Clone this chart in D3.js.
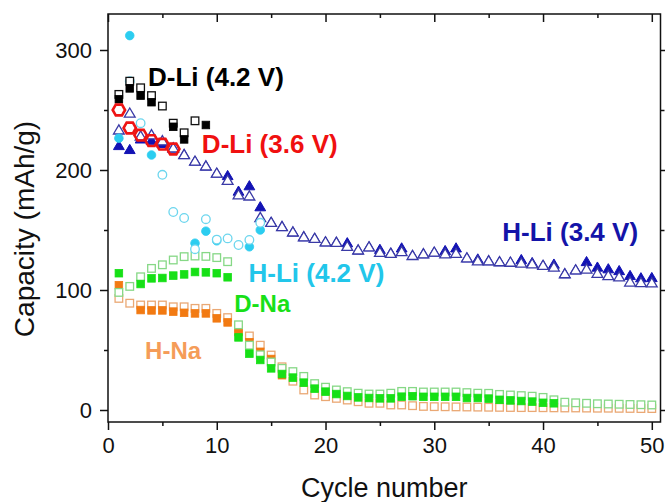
<!DOCTYPE html>
<html>
<head>
<meta charset="utf-8">
<script src="https://cdn.jsdelivr.net/npm/d3@7"></script>
<style>
  html, body { margin: 0; padding: 0; background: #ffffff; }
  svg { display: block; }
  text { font-family: "Liberation Sans", Arial, Helvetica, sans-serif; }
</style>
</head>
<body>
<script>
// ---------------- DATA ----------------
const cycleNumbers = [1,2,3,4,5,6,7,8,9,10,11,12,13,14,15,16,17,18,19,20,21,22,23,24,25,
                      26,27,28,29,30,31,32,33,34,35,36,37,38,39,40,41,42,43,44,45,46,47,48,49,50];

const xTicksMajor = [0, 10, 20, 30, 40, 50];
const xTicksMinor = [5, 15, 25, 35, 45];
const yTicksMajor = [0, 100, 200, 300];
const yTicksMinor = [50, 150, 250];

// D-Li (4.2 V) black squares (cycle 1..)
const dLi42Open   = [263, 274, 268.5, 262, 253.3, 239, 231, 241];
const dLi42Filled = [259, 268, 262, 256.5, null, 236, 225.5, null, 237.5];

// D-Li (3.6 V) red hexagons
const dLi36 = [250, 235, 229, 224.5, 221.5, 217.5];

// H-Li (4.2 V) cyan circles
const hLi42Filled = [226.5, 312, null, 212.5, null, null, null, 139, 149, 141, null, null, 136, 150];
const hLi42Open   = [null, 274, 239, null, 196, 165, 160, 134, 159, 142, 143, 137.5, 141.7, 156];

// H-Li (3.4 V) navy triangles
const hLi34Open = [233, 247, 228, 229, 224, 218, 212.5, 207, 203, 197, 191, 179, 178, 160, 156,
                   152.5, 148, 144, 142.7, 139.7, 139.4, 136, 133, 135.6, 131, 130.2, 131.7, 128.4, 129.8, 131.2,
                   129.8, 130.2, 126.4, 124, 124, 123.2, 122.8, 122, 121.4, 120.2, 118.8, 113.2, 116.4, 117.1, 113.5,
                   111.7, 110.6, 106.3, 105.8, 105.6];
const hLi34Filled = [220, 216.7, 225.5, 224.4, 221.7, 218, 212.5, 207, 203, 197, 195, 182, 186.5, 169, 156,
                     152.5, 148, 144, 142.7, 139.7, 139.4, 139, 133, 135.6, 133.5, 130.5, 134.7, 128.4, 129.8, 131.2,
                     132.5, 134.7, 126.4, 125.5, 124, 123.2, 122.8, 125, 122.5, 120.2, 121.2, 113.2, 116.4, 123.3, 118.7,
                     117.3, 115.8, 111.7, 109.8, 110];

// D-Na green squares
const dNaOpen = [98, 103, 111, 118, 121, 125, 127.8, 128.3, 128, 127, 123.6, 71, 54, 46, 40,
                 34.7, 32, 28, 22, 19, 16.7, 15.3, 14, 13.3, 13.3, 14, 15.5, 15.5, 15, 15,
                 15, 15, 14.5, 14, 13.9, 13, 12.5, 12, 11.5, 10.5, 8.5, 6.5, 6, 5.6, 5.2,
                 5, 4.8, 4.6, 4.4, 4.2];
const dNaFilled = [114, null, 105, 109.7, 110, 112, 113, 115, 114.7, 114, 110.6, 60.5, 47, 41.7, 34.7,
                   30, 27, 22.8, 17.8, 15.3, 13.3, 11.7, 10.5, 10, 9.7, 9.7, 11.1, 11.5, 11, 11,
                   11, 11, 10, 10, 9.5, 8.5, 8, 7.5, 7, 6, 5.6];

// H-Na orange squares
const hNaOpen = [93, 89, 87.5, 87.5, 87.5, 86, 86, 84.7, 84.7, 80.5, 77, 68, 61.7, 54, 45.8,
                 36, 24, 16.7, 12.5, 11.1, 9.7, 8.3, 6.9, 5.6, 5.6, 4.2, 4.2, 3.6, 3, 2.8,
                 2.7, 2.6, 2.5, 2.4, 2.3, 2.2, 2.1, 2, 2, 1.9, 1.8, 1.7, 1.7, 1.6, 1.5,
                 1.5, 1.4, 1.3, 1.2, 1.2];
const hNaFilled = [104, null, 83.3, 83, 83, 82, 81, 80.5, 80.5, 76.4, 73, 65, 56.5, 48.5, 42.5, 29];

// Labels
const seriesLabels = [
  { text: "D-Li (4.2 V)", color: "#000000", cycle: 3.68, value: 269.6, size: 26 },
  { text: "D-Li (3.6 V)", color: "#f01010", cycle: 8.63, value: 214, size: 26 },
  { text: "H-Li (3.4 V)", color: "#1414a8", cycle: 36.25, value: 141, size: 26 },
  { text: "H-Li (4.2 V)", color: "#22c6ea", cycle: 12.92, value: 107, size: 26 },
  { text: "D-Na",         color: "#18e018", cycle: 11.61, value: 81.5, size: 24 },
  { text: "H-Na",         color: "#f59c58", cycle: 3.41, value: 42.5, size: 24 }
];

// ---------------- CHART ----------------
const W = 665, H = 502;
const svg = d3.select("body").append("svg").attr("width", W).attr("height", H);

const x = d3.scaleLinear().domain([0, 50.8]).range([108, 660.5]);
const y = d3.scaleLinear().domain([-10, 330]).range([422, 14]);

const toPts = arr => arr.map((v, i) => ({ c: cycleNumbers[i], v })).filter(d => d.v !== null);

// Axes
function styleAxis(g) {
  g.select(".domain").remove();
  g.selectAll(".tick line").attr("stroke", "#111").attr("stroke-width", 1.5);
  g.selectAll(".tick text").attr("fill", "#111").style("font-size", "22px")
    .style("font-family", '"Liberation Sans", Arial, sans-serif');
}
svg.append("g").attr("transform", "translate(108,0)")
  .call(d3.axisLeft(y).tickValues(yTicksMajor).tickSize(8).tickPadding(8)).call(styleAxis);
svg.append("g").attr("transform", "translate(108,0)")
  .call(d3.axisLeft(y).tickValues(yTicksMinor).tickSize(4).tickFormat("")).call(styleAxis);
svg.append("g").attr("transform", "translate(660.5,0)")
  .call(d3.axisRight(y).tickValues(yTicksMajor).tickSize(8).tickFormat("")).call(styleAxis);
svg.append("g").attr("transform", "translate(660.5,0)")
  .call(d3.axisRight(y).tickValues(yTicksMinor).tickSize(4).tickFormat("")).call(styleAxis);
svg.append("g").attr("transform", "translate(0,422)")
  .call(d3.axisBottom(x).tickValues(xTicksMajor).tickSize(8).tickPadding(7)).call(styleAxis);
svg.append("g").attr("transform", "translate(0,422)")
  .call(d3.axisBottom(x).tickValues(xTicksMinor).tickSize(4).tickFormat("")).call(styleAxis);
svg.append("g").attr("transform", "translate(0,14)")
  .call(d3.axisBottom(x).tickValues(xTicksMajor).tickSize(8).tickFormat("")).call(styleAxis);
svg.append("g").attr("transform", "translate(0,14)")
  .call(d3.axisBottom(x).tickValues(xTicksMinor).tickSize(4).tickFormat("")).call(styleAxis);

// Frame
svg.append("rect")
  .attr("x", x(0)).attr("y", y(330))
  .attr("width", x(50.8) - x(0)).attr("height", y(-10) - y(330))
  .attr("fill", "none").attr("stroke", "#111").attr("stroke-width", 1.5);

// Axis titles
svg.append("text").attr("x", (x(0) + x(50.8)) / 2).attr("y", 497)
  .attr("text-anchor", "middle").style("font-size", "27px").attr("fill", "#111")
  .text("Cycle number");
svg.append("text").attr("transform", "translate(34,229) rotate(-90)")
  .attr("text-anchor", "middle").style("font-size", "28px").attr("fill", "#111")
  .text("Capacity (mAh/g)");

const plot = svg.append("g");

function squares(data, fill, stroke, sw) {
  const s = 7.6;
  plot.append("g").selectAll("rect").data(toPts(data)).join("rect")
    .attr("x", d => x(d.c) - s / 2).attr("y", d => y(d.v) - s / 2)
    .attr("width", s).attr("height", s)
    .attr("fill", fill).attr("stroke", stroke).attr("stroke-width", sw);
}
function triangles(data, fill, stroke, sw) {
  const tri = "M0,-5.6L5.4,3.6L-5.4,3.6Z";
  plot.append("g").selectAll("path").data(toPts(data)).join("path")
    .attr("d", tri).attr("transform", d => `translate(${x(d.c)},${y(d.v)})`)
    .attr("fill", fill).attr("stroke", stroke).attr("stroke-width", sw);
}
function circles(data, fill, stroke, sw) {
  plot.append("g").selectAll("circle").data(toPts(data)).join("circle")
    .attr("cx", d => x(d.c)).attr("cy", d => y(d.v)).attr("r", 4.3)
    .attr("fill", fill).attr("stroke", stroke).attr("stroke-width", sw);
}
function hexagons(data, stroke) {
  const r = 6.2;
  const hex = d3.range(6).map(k => [r * Math.cos(k * Math.PI / 3), r * Math.sin(k * Math.PI / 3)]);
  const p = "M" + hex.map(q => q.join(",")).join("L") + "Z";
  plot.append("g").selectAll("path").data(toPts(data)).join("path")
    .attr("d", p).attr("transform", d => `translate(${x(d.c)},${y(d.v)})`)
    .attr("fill", "none").attr("stroke", stroke).attr("stroke-width", 2.6);
}

// Draw series (bottom to top)
squares(hNaOpen, "#ffffff", "#eaa874", 1.3);
squares(hNaFilled, "#f27a12", "#f27a12", 0.8);
squares(dNaOpen, "#ffffff", "#86d886", 1.3);
squares(dNaFilled, "#16e016", "#16e016", 0.8);
triangles(hLi34Filled, "#1212b4", "#1212b4", 1);
triangles(hLi34Open, "#ffffff", "#3a3aa6", 1.3);
circles(hLi42Filled, "#2ccdf0", "#2ccdf0", 0.8);
circles(hLi42Open, "#ffffff", "#6cd6ee", 1.3);
squares(dLi42Open, "#ffffff", "#111111", 1.3);
squares(dLi42Filled, "#000000", "#000000", 0.8);
hexagons(dLi36, "#ee1414");

// Series labels
svg.append("g").selectAll("text").data(seriesLabels).join("text")
  .attr("x", d => x(d.cycle)).attr("y", d => y(d.value))
  .attr("fill", d => d.color)
  .style("font-size", d => d.size + "px").style("font-weight", "bold")
  .text(d => d.text);
</script>
</body>
</html>
